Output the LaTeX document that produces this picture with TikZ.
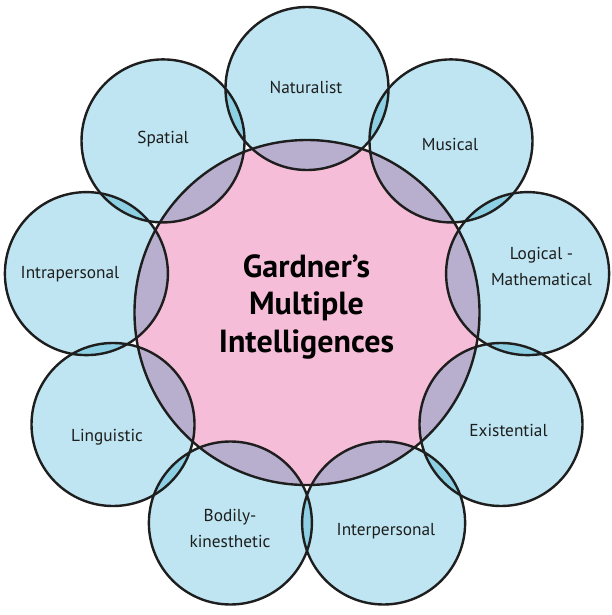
\documentclass[tikz,border=0pt]{standalone}
\usepackage{fontspec}
\usetikzlibrary{calc}
\setmainfont{PT Sans}
\definecolor{bluefill}{HTML}{BEE5F1}
\definecolor{pinkfill}{HTML}{F6BDD8}
\definecolor{purplefill}{HTML}{B8AECD}
\definecolor{lensfill}{HTML}{8DD0E4}
\definecolor{inkline}{HTML}{1E1E1E}
\begin{document}
\begin{tikzpicture}[x=1pt,y=-1pt,
  ring/.style={draw=inkline,line width=2.4pt},
  lbl/.style={anchor=base,font=\fontsize{17.3}{26}\selectfont,text=inkline,align=center,inner sep=0pt},
  ttl/.style={anchor=base,font=\bfseries\fontsize{32}{37.5}\selectfont,text=black,align=center,inner sep=0pt}]
\useasboundingbox (0,0) rectangle (612,615);
\def\Rc{172.5}
\def\rb{81.5}
\coordinate (C) at (307,312.5);
\foreach \k in {0,...,8}{
  \coordinate (b\k) at ($(C)+({90-40*\k}:224 and -224)$);
}
% fills
\fill[pinkfill] (C) circle (\Rc);
\foreach \k in {0,...,8}{ \fill[bluefill] (b\k) circle (\rb); }
\begin{scope}
  \clip (C) circle (\Rc);
  \foreach \k in {0,...,8}{ \fill[purplefill] (b\k) circle (\rb); }
\end{scope}
\foreach \k [evaluate=\k as \j using {int(mod(\k+1,9))}] in {0,...,8}{
  \begin{scope}
    \clip (b\k) circle (\rb);
    \fill[lensfill] (b\j) circle (\rb);
  \end{scope}
}
% outlines
\draw[ring] (C) circle (\Rc);
\foreach \k in {0,...,8}{ \draw[ring] (b\k) circle (\rb); }
% labels (base anchor = baseline of last line)
\node[ttl] (title) at (306.5,352) {Gardner’s\\Multiple\\Intelligences};
\node[lbl] (nat) at (306,94) {Naturalist};
\node[lbl] (mus) at (450,150) {Musical};
\node[lbl] (log) at (541.5,285) {Logical -\\Mathematical};
\node[lbl] (exi) at (508.5,436) {Existential};
\node[lbl] (int) at (386,535) {Interpersonal};
\node[lbl] (bod) at (230,547) {Bodily-\\kinesthetic};
\node[lbl] (lin) at (107,441) {Linguistic};
\node[lbl] (intra) at (70,278) {Intrapersonal};
\node[lbl] (spa) at (163,143) {Spatial};
\end{tikzpicture}
\end{document}
